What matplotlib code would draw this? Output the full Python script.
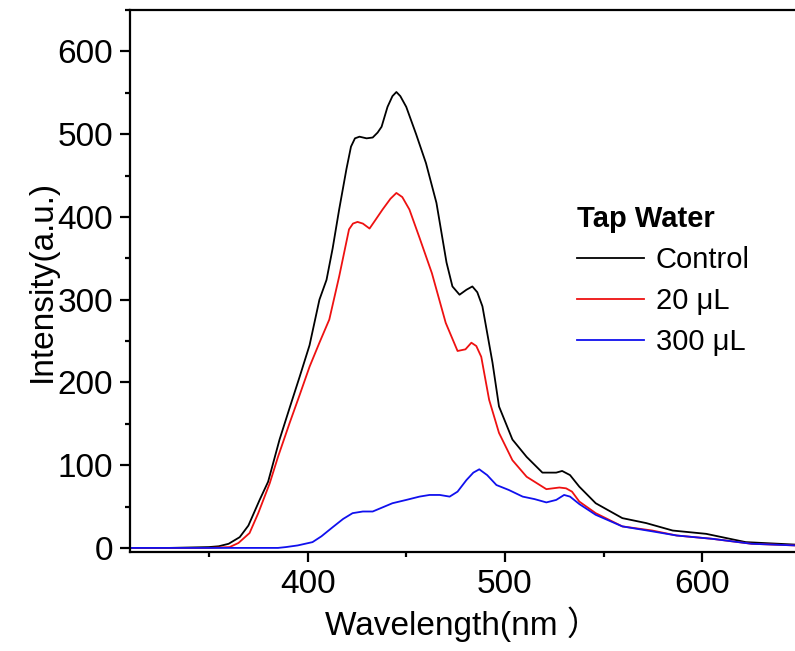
import matplotlib
matplotlib.use("Agg")
import matplotlib.pyplot as plt
from matplotlib.ticker import MultipleLocator

plt.rcParams['font.family'] = ['Liberation Sans', 'Noto Sans CJK SC', 'DejaVu Sans']

# spectra (wavelength nm, intensity a.u.)
wl_control = [310, 330, 350, 355, 360, 365.6, 370, 375.7, 380, 385.8, 391, 396, 401, 406,
              409.6, 412.7, 416, 419.7, 422, 424, 426.3, 429.9, 433, 435.5, 437.5, 440.5,
              443, 445, 447, 450, 455, 460, 465.3, 470.4, 473.4, 477, 480.5, 483.5, 486,
              488.6, 493.7, 497, 503.8, 511, 519, 526, 529, 533, 537.7, 546, 559.5, 571.6,
              585, 602, 622, 647]
int_control = [0, 0, 1, 2, 5, 13, 27, 58, 80, 131, 170, 207, 245, 300,
               324, 362, 409, 458, 485, 495, 497, 495, 496, 502, 509, 533,
               546, 551, 546, 533, 500, 465, 417, 345, 316, 306, 312, 316, 309,
               292, 224, 171, 131, 110, 91, 91, 93, 88, 74, 54, 36, 30,
               21, 17, 7, 4]

wl_20 = [310, 350, 360.5, 365, 370.6, 375, 380.8, 385, 390.9, 396, 401, 406, 411, 416,
         421, 423, 425.3, 428, 431.4, 434, 438, 442, 445, 448, 451.6, 456.7, 463, 470,
         476, 480, 483, 485.5, 488, 492, 497, 503.8, 511, 521, 527.6, 531, 534, 537.7,
         546, 559.5, 574.7, 587, 605, 625, 647]
int_20 = [0, 0, 1, 6, 18, 42, 78, 110, 151, 185, 219, 248, 276, 328,
          385, 392, 394, 392, 386, 395, 409, 422, 429, 424, 409, 375, 332, 272,
          238, 240, 248, 244, 231, 179, 139, 106, 86, 71, 73, 72, 68, 56,
          42, 26, 21, 15, 11, 5, 3]

wl_300 = [310, 350, 385, 389, 395, 402.5, 407, 412.7, 418, 422.8, 428, 433, 438, 443,
          450, 456.7, 461.8, 467, 472, 476, 480.5, 484, 487, 491, 495.7, 502, 509,
          515, 521, 526, 530, 533, 537.7, 546, 559.5, 574.7, 587, 605, 625, 647]
int_300 = [0, 0, 0, 1, 3, 7, 14, 25, 35, 42, 44, 44, 49, 54,
           58, 62, 64, 64, 62, 68, 82, 91, 95, 88, 76, 70, 62,
           59, 55, 58, 64, 62, 53, 40, 26, 20, 15, 11, 5, 3]

fig = plt.figure(figsize=(7.95, 6.51), dpi=100)
ax = fig.add_axes([0.1635, 0.152, 0.8365, 0.8325])

ax.plot(wl_control, int_control, color='black', lw=1.3, label='Control')
ax.plot(wl_20, int_20, color='#ee1111', lw=1.3, label='20 \u03bcL')
ax.plot(wl_300, int_300, color='#1010ee', lw=1.3, label='300 \u03bcL')

ax.set_xlim(310, 647)
ax.set_ylim(-5, 650)
ax.xaxis.set_major_locator(MultipleLocator(100))
ax.xaxis.set_minor_locator(MultipleLocator(50))
ax.yaxis.set_major_locator(MultipleLocator(100))
ax.yaxis.set_minor_locator(MultipleLocator(50))

ax.spines['right'].set_visible(False)
for s in ['left', 'bottom', 'top']:
    ax.spines[s].set_linewidth(1.6)
ax.tick_params(which='major', direction='out', length=7, width=1.6, labelsize=24, pad=5)
ax.tick_params(which='minor', direction='out', length=3.8, width=1.6)
ax.tick_params(top=False, right=False, which='both')

ax.set_xlabel('Wavelength(nm \uff09', fontsize=24, labelpad=5)
ax.set_ylabel('Intensity(a.u.)', fontsize=24, labelpad=0)

leg = ax.legend(title='Tap Water', loc='upper left', bbox_to_anchor=(0.655, 0.662),
                frameon=False, fontsize=21, title_fontsize=21, handlelength=2.3,
                handletextpad=0.4, labelspacing=0.45, borderaxespad=0)
leg.get_title().set_fontweight('bold')
leg._legend_box.align = 'left'

fig.savefig('out.png', dpi=100)
